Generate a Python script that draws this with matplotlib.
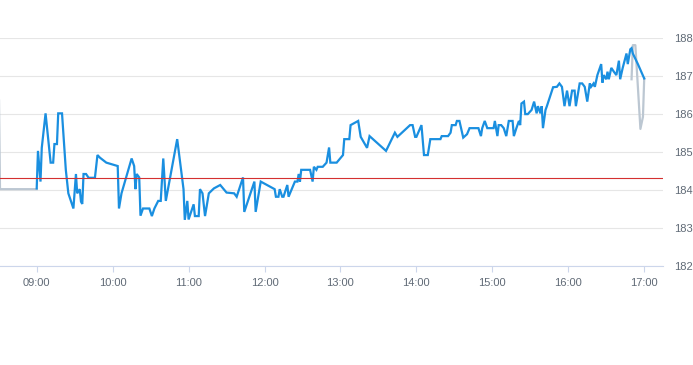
import pandas as pd
import matplotlib
matplotlib.use('Agg')
import matplotlib.pyplot as plt
import matplotlib.dates as mdates

plt.rcParams['font.family'] = ['Liberation Sans', 'DejaVu Sans']

DAY = '2024-01-02 '

# ── intraday price (regular session) ─────────────────────────────────────────
blue_times = [
    '09:00', '09:01', '09:03', '09:04', '09:07', '09:11', '09:13', '09:14', '09:16', '09:17',
    '09:20', '09:23', '09:25', '09:29', '09:31', '09:32', '09:34', '09:35', '09:36', '09:37',
    '09:39', '09:41', '09:46', '09:48', '09:50', '09:55', '09:59', '10:04', '10:05', '10:07',
    '10:15', '10:17', '10:18', '10:19', '10:21', '10:22', '10:24', '10:29', '10:31', '10:33',
    '10:36', '10:38', '10:40', '10:42', '10:51', '10:56', '10:57', '10:59', '11:00', '11:04',
    '11:05', '11:08', '11:09', '11:11', '11:13', '11:16', '11:20', '11:25', '11:30', '11:36',
    '11:38', '11:43', '11:44', '11:52', '11:53', '11:57', '12:08', '12:09', '12:11', '12:12',
    '12:14', '12:15', '12:18', '12:19', '12:24', '12:26', '12:27', '12:28', '12:29', '12:36',
    '12:38', '12:39', '12:41', '12:42', '12:46', '12:49', '12:51', '12:52', '12:57', '13:02',
    '13:03', '13:07', '13:08', '13:14', '13:16', '13:21', '13:23', '13:30', '13:36', '13:43',
    '13:45', '13:55', '13:57', '13:59', '14:00', '14:04', '14:06', '14:09', '14:11', '14:19',
    '14:20', '14:25', '14:27', '14:28', '14:31', '14:32', '14:34', '14:37', '14:40', '14:42',
    '14:49', '14:51', '14:52', '14:54', '14:56', '15:01', '15:02', '15:04', '15:05', '15:07',
    '15:09', '15:11', '15:13', '15:16', '15:17', '15:19', '15:21', '15:22', '15:23', '15:25',
    '15:26', '15:28', '15:31', '15:33', '15:35', '15:36', '15:38', '15:39', '15:40', '15:42',
    '15:43', '15:48', '15:51', '15:53', '15:55', '15:57', '15:59', '16:01', '16:03', '16:05',
    '16:06', '16:09', '16:11', '16:13', '16:15', '16:17', '16:18', '16:20', '16:21', '16:23',
    '16:26', '16:27', '16:28', '16:30', '16:31', '16:32', '16:34', '16:36', '16:38', '16:40',
    '16:41', '16:43', '16:46', '16:47', '16:49', '16:50', '16:51', '16:55', '17:00',
]
blue_vals = [
    184.04, 185.03, 184.22, 185.11, 186.02, 184.72, 184.72, 185.21, 185.21, 186.02,
    186.02, 184.53, 183.91, 183.51, 184.42, 183.91, 184.02, 183.69, 183.63, 184.42,
    184.42, 184.32, 184.32, 184.92, 184.85, 184.72, 184.68, 184.63, 183.51, 183.91,
    184.83, 184.63, 184.02, 184.42, 184.33, 183.32, 183.51, 183.51, 183.31, 183.51,
    183.71, 183.71, 184.83, 183.71, 185.34, 184.02, 183.21, 183.71, 183.22, 183.62,
    183.31, 183.31, 184.02, 183.91, 183.31, 183.91, 184.04, 184.13, 183.93, 183.91,
    183.82, 184.33, 183.42, 184.22, 183.42, 184.22, 184.02, 183.82, 183.82, 184.02,
    183.82, 183.82, 184.13, 183.82, 184.22, 184.22, 184.42, 184.22, 184.53, 184.53,
    184.22, 184.61, 184.53, 184.61, 184.61, 184.72, 185.12, 184.72, 184.72, 184.92,
    185.34, 185.34, 185.71, 185.82, 185.40, 185.11, 185.42, 185.21, 185.03, 185.51,
    185.40, 185.71, 185.71, 185.40, 185.40, 185.71, 184.92, 184.92, 185.34, 185.34,
    185.42, 185.42, 185.51, 185.71, 185.71, 185.82, 185.82, 185.38, 185.47, 185.63,
    185.63, 185.42, 185.63, 185.82, 185.63, 185.63, 185.82, 185.42, 185.71, 185.71,
    185.63, 185.42, 185.82, 185.82, 185.42, 185.63, 185.82, 185.71, 186.28, 186.33,
    186.00, 186.00, 186.11, 186.33, 186.02, 186.21, 186.02, 186.21, 185.63, 186.11,
    186.20, 186.71, 186.72, 186.81, 186.72, 186.21, 186.62, 186.21, 186.62, 186.62,
    186.21, 186.81, 186.81, 186.72, 186.33, 186.81, 186.72, 186.81, 186.72, 187.03,
    187.32, 186.83, 187.03, 186.92, 187.12, 186.92, 187.22, 187.12, 187.03, 187.41,
    186.92, 187.22, 187.60, 187.32, 187.71, 187.74, 187.60, 187.32, 186.94,
]

# ── extended hours (grey) ────────────────────────────────────────────────────
pre_times = ['08:30', '08:31', '09:00']
pre_vals = [186.98, 184.02, 184.02]
post_times = ['16:50', '16:51', '16:53', '16:57', '16:59', '17:00']
post_vals = [186.92, 187.82, 187.82, 185.61, 185.93, 186.94]

prev_close = 184.31
y_ticks = [182, 183, 184, 185, 186, 187, 188]
x_range = ('08:31', '17:15')


def to_dt(times):
    return pd.to_datetime([DAY + t for t in times])


# ── figure ───────────────────────────────────────────────────────────────────
fig = plt.figure(figsize=(6.93, 3.65), dpi=100)
ax = fig.add_axes([0, 0.272, 0.957, 0.623])

ax.set_ylim(y_ticks[0], y_ticks[-1])
ax.set_xlim(to_dt(x_range))
ax.set_yticks(y_ticks)
ax.grid(axis='y', color='#e6e6e6', linewidth=0.8, zorder=0)
ax.set_axisbelow(True)

ax.plot(to_dt(pre_times), pre_vals, color='#bcc7d2', linewidth=1.6, zorder=2, clip_on=False)
ax.plot(to_dt(post_times), post_vals, color='#bcc7d2', linewidth=1.6, zorder=2)
ax.plot(to_dt(blue_times), blue_vals, color='#1a8fe0', linewidth=1.6, zorder=3,
        solid_joinstyle='miter')
ax.axhline(prev_close, color='#d43030', linewidth=0.8, zorder=4)

for side in ['top', 'left', 'right']:
    ax.spines[side].set_visible(False)
ax.spines['bottom'].set_color('#ccd6eb')
ax.spines['bottom'].set_linewidth(0.8)

ax.xaxis.set_major_locator(mdates.HourLocator(byhour=range(9, 18)))
ax.xaxis.set_major_formatter(mdates.DateFormatter('%H:%M'))
ax.tick_params(axis='x', length=4, width=0.8, color='#ccd6eb', pad=5,
               labelsize=8, labelcolor='#606a76')
ax.yaxis.tick_right()
ax.tick_params(axis='y', length=0, pad=7.5, labelsize=8, labelcolor='#606a76')
for lbl in ax.get_yticklabels():
    lbl.set_horizontalalignment('left')

fig.savefig('out.png', dpi=100)
